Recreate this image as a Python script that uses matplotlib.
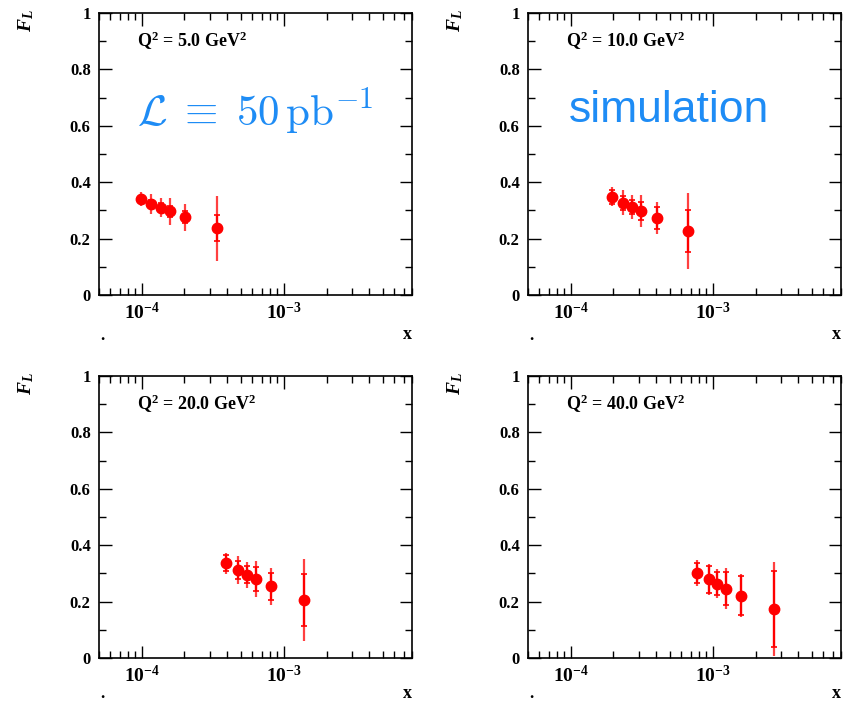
import numpy as np
import matplotlib
matplotlib.use("Agg")
import matplotlib.pyplot as plt
from matplotlib.ticker import LogLocator, MultipleLocator, NullFormatter, FixedLocator, FixedFormatter

# Q^2 bins
q2_values = [5.0, 10.0, 20.0, 40.0]

# x values per Q^2 bin
x_q2_5 = [9.8e-5, 1.17e-4, 1.36e-4, 1.57e-4, 2.02e-4, 3.39e-4]
x_q2_10 = [1.94e-4, 2.33e-4, 2.69e-4, 3.11e-4, 4.02e-4, 6.74e-4]
x_q2_20 = [3.94e-4, 4.74e-4, 5.47e-4, 6.33e-4, 8.12e-4, 1.39e-3]
x_q2_40 = [7.75e-4, 9.37e-4, 1.07e-3, 1.24e-3, 1.59e-3, 2.70e-3]

# F_L values
fl_q2_5 = [0.339, 0.322, 0.310, 0.297, 0.276, 0.237]
fl_q2_10 = [0.349, 0.327, 0.313, 0.298, 0.273, 0.227]
fl_q2_20 = [0.336, 0.312, 0.295, 0.280, 0.254, 0.206]
fl_q2_40 = [0.302, 0.279, 0.264, 0.246, 0.221, 0.174]

# statistical (inner) errors
stat_q2_5 = [0.012, 0.015, 0.016, 0.020, 0.022, 0.045]
stat_q2_10 = [0.025, 0.025, 0.025, 0.033, 0.038, 0.074]
stat_q2_20 = [0.028, 0.033, 0.030, 0.042, 0.047, 0.093]
stat_q2_40 = [0.035, 0.047, 0.041, 0.058, 0.070, 0.134]

# total (outer) errors
tot_q2_5 = [0.025, 0.036, 0.035, 0.048, 0.048, 0.115]
tot_q2_10 = [0.033, 0.045, 0.043, 0.058, 0.057, 0.136]
tot_q2_20 = [0.037, 0.049, 0.047, 0.063, 0.066, 0.145]
tot_q2_40 = [0.045, 0.056, 0.052, 0.074, 0.077, 0.166]

panels = [
    (x_q2_5, fl_q2_5, stat_q2_5, tot_q2_5),
    (x_q2_10, fl_q2_10, stat_q2_10, tot_q2_10),
    (x_q2_20, fl_q2_20, stat_q2_20, tot_q2_20),
    (x_q2_40, fl_q2_40, stat_q2_40, tot_q2_40),
]

plt.rcParams['font.family'] = ['Liberation Serif', 'DejaVu Serif']
plt.rcParams['font.weight'] = 'bold'
# bold Times-like math for the ROOT style labels
plt.rcParams['mathtext.fontset'] = 'custom'
plt.rcParams['mathtext.rm'] = 'Liberation Serif:bold'
plt.rcParams['mathtext.it'] = 'Liberation Serif:italic:bold'
plt.rcParams['mathtext.bf'] = 'Liberation Serif:bold'

blue = '#1e8cf5'
fig = plt.figure(figsize=(8.5, 7.02), dpi=100)

W, H = 850.0, 702.0
lefts = [99, 528]
tops = [13, 376]
pw, ph = 313, 282

for i, (xs, ys, st, tot) in enumerate(panels):
    col = i % 2
    row = i // 2
    l = lefts[col]
    t = tops[row]
    ax = fig.add_axes([l / W, 1 - (t + ph) / H, pw / W, ph / H])
    ax.set_xscale('log')
    ax.set_xlim(5e-5, 8e-3)
    ax.set_ylim(0, 1)

    # total errors (outer, lighter)
    ax.errorbar(xs, ys, yerr=tot, fmt='none', ecolor='#ff4040', elinewidth=1.6, capsize=0, zorder=2)
    # stat errors with small caps
    ax.errorbar(xs, ys, yerr=st, fmt='none', ecolor='red', elinewidth=1.6, capsize=2.5, capthick=1.2, zorder=3)
    ax.plot(xs, ys, 'o', color='red', markersize=7.5, zorder=4)

    ax.xaxis.set_major_locator(FixedLocator([1e-4, 1e-3]))
    ax.xaxis.set_major_formatter(FixedFormatter([r'$10^{-4}$', r'$10^{-3}$']))
    ax.xaxis.set_minor_locator(LogLocator(base=10, subs=np.arange(2, 10), numticks=20))
    ax.xaxis.set_minor_formatter(NullFormatter())
    ax.yaxis.set_minor_locator(MultipleLocator(0.1))
    ax.set_yticks([0, 0.2, 0.4, 0.6, 0.8, 1.0])
    ax.set_yticklabels(['0', '0.2', '0.4', '0.6', '0.8', '1'])

    ax.tick_params(which='both', direction='in', top=True, right=True, width=1)
    ax.tick_params(which='major', length=9, labelsize=12, pad=6)
    ax.tick_params(which='minor', length=5)
    ax.tick_params(axis='x', which='major', labelsize=14, pad=5)
    for lab in ax.get_yticklabels() + ax.get_xticklabels():
        lab.set_fontweight('bold')
    for s in ax.spines.values():
        s.set_linewidth(1.2)

    ax.text(0.12, 0.9, r'Q$^{2}$ = %.1f GeV$^{2}$' % q2_values[i],
            transform=ax.transAxes, fontsize=13, fontweight='bold', va='center', ha='left')

    # axis titles placed like the ROOT output
    fig.text((l - 73) / W, 1 - (t + 8) / H, r'$F_L$', rotation=90,
             fontsize=14, ha='center', va='center', fontweight='bold')
    dy = 40 if row == 0 else 35
    fig.text((l + pw - 5) / W, 1 - (t + ph + dy) / H, 'x', fontsize=13,
             ha='center', va='center', fontweight='bold')
    fig.text((l + 3) / W, 1 - (t + ph + dy + 1) / H, '.', fontsize=12,
             ha='center', va='center', fontweight='bold')

lumi = fig.text(255 / W, 1 - 112 / H, r'$\mathcal{L}\;\equiv\;50\,\mathrm{pb}^{-1}$',
                color=blue, fontsize=31, ha='center', va='center', fontweight='normal')
lumi.set_math_fontfamily('cm')
fig.text(669 / W, 1 - 111 / H, 'simulation', color=blue, fontsize=32,
         ha='center', va='center', family=['Liberation Sans', 'DejaVu Sans'], fontweight='normal')

fig.savefig('out.png', dpi=100)
